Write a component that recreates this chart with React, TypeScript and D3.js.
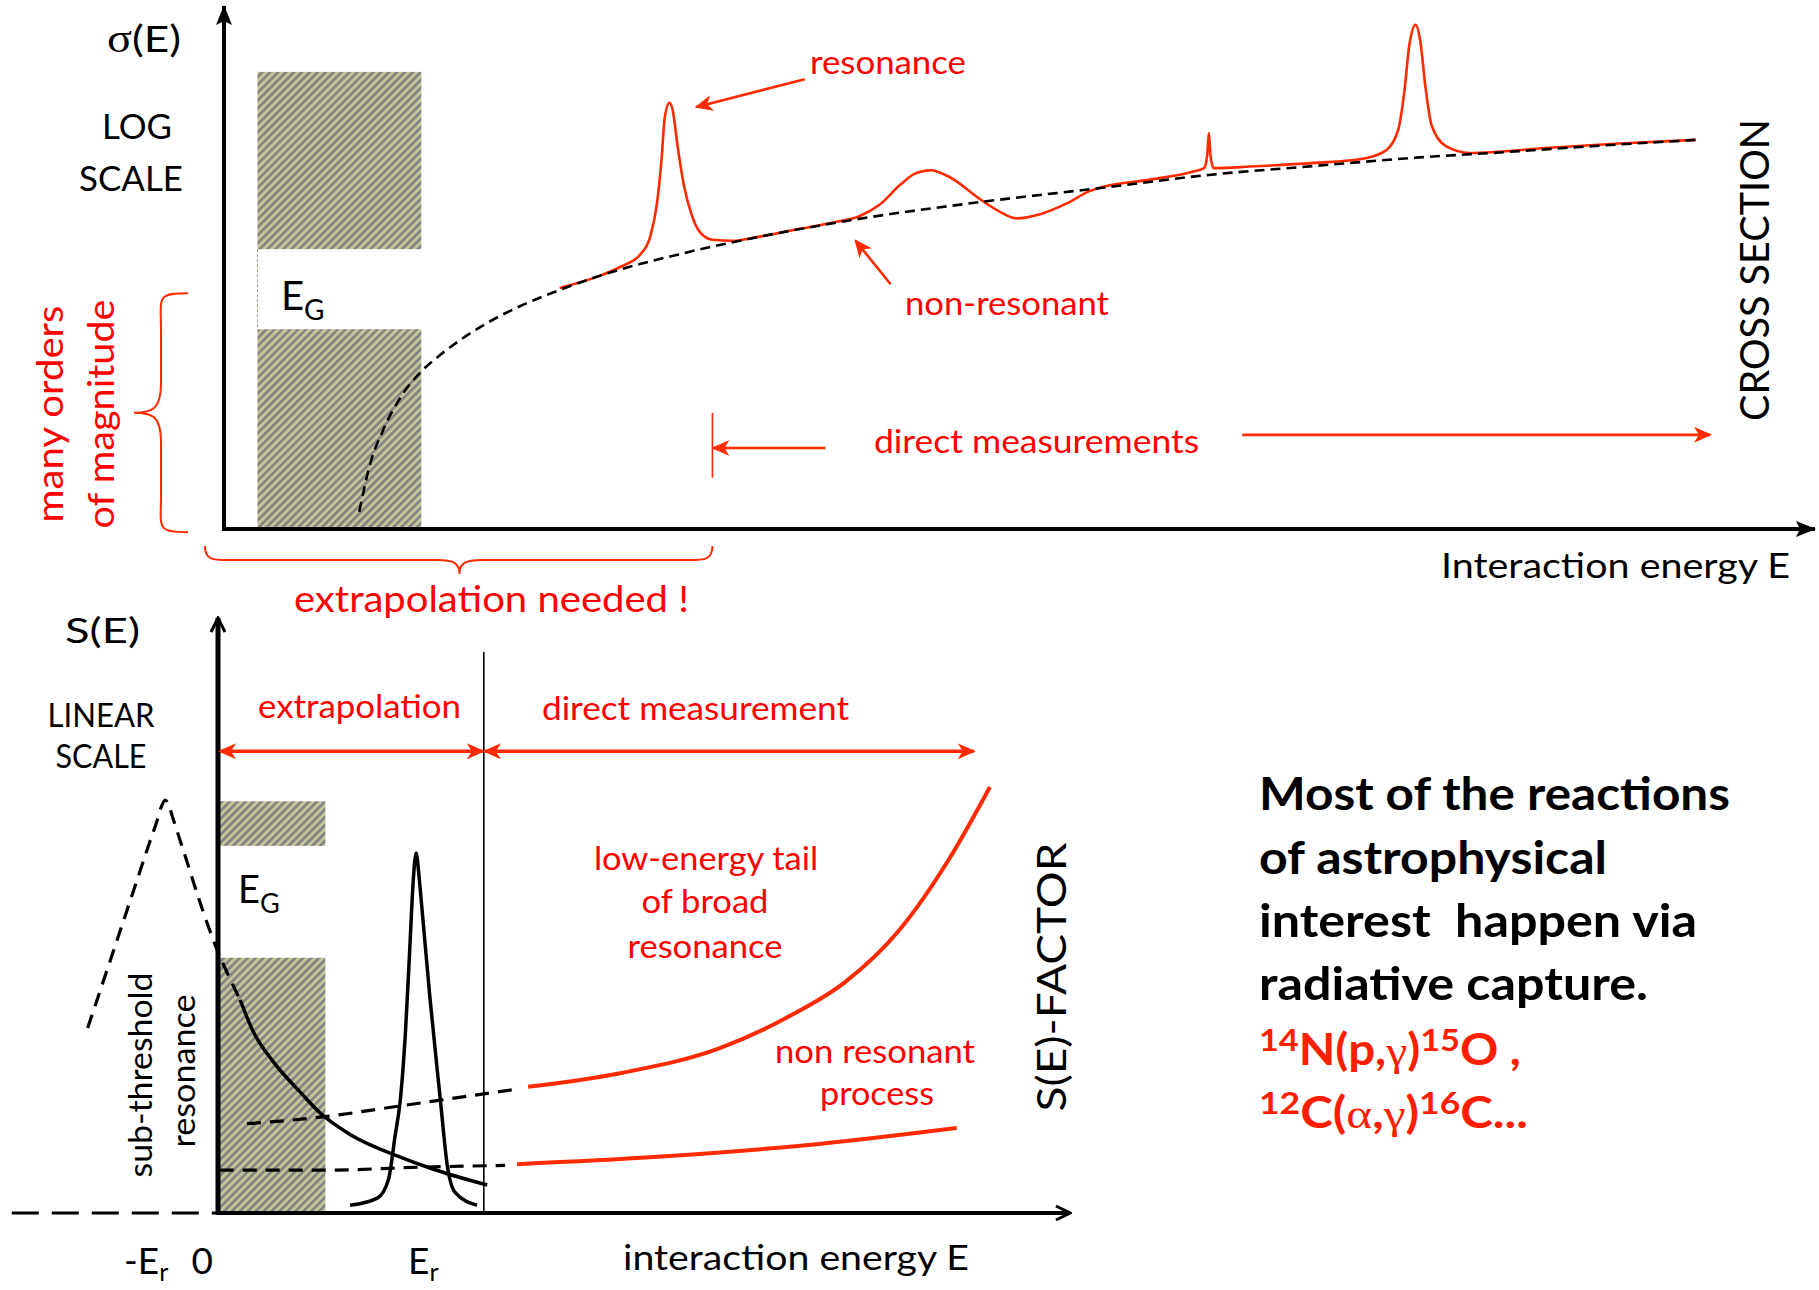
import React, { useEffect } from 'react';
import * as d3 from 'd3';

type Pt = [number, number];

// ---------- upper panel: cross section σ(E), log scale (arbitrary units 0–100) ----------
const nonResonantSigma: Pt[] = [
  [8.5, 3.3], [9.2, 12.6], [10.0, 18.9], [11.1, 25.2], [12.3, 29.8], [13.6, 33.3], [16.1, 38.6],
  [18.6, 42.6], [21.1, 45.7], [23.6, 48.4], [28.7, 52.6], [33.7, 55.9], [39.3, 59.0], [47.5, 62.5],
  [55.1, 65.2], [61.9, 67.7], [68.5, 69.4], [74.9, 71.0], [80.2, 72.0], [86.5, 73.3], [92.5, 74.4],
];
const measuredSigma: Pt[] = [
  [21.1, 46.1], [23.6, 48.4], [24.9, 50.1], [26.2, 52.6], [26.8, 56.0], [27.2, 62.0], [27.5, 70.6],
  [27.7, 78.6], [28.0, 81.5], [28.2, 80.1], [28.5, 73.4], [28.9, 65.8], [29.4, 60.0], [29.9, 56.8],
  [30.7, 55.3], [32.0, 55.1], [33.1, 55.6], [36.2, 57.4], [38.3, 58.6], [40.0, 59.9], [41.2, 62.0],
  [42.5, 65.8], [43.4, 67.9], [44.4, 68.6], [45.6, 67.3], [47.5, 63.1], [48.8, 60.6], [49.8, 59.4],
  [51.3, 60.2], [53.0, 62.3], [54.4, 64.6], [55.1, 65.3], [58.2, 66.8], [61.0, 68.4], [61.6, 69.0],
  [61.8, 71.5], [61.9, 75.7], [62.0, 71.5], [62.2, 69.0], [64.5, 69.3], [68.5, 70.0], [71.4, 70.7],
  [73.0, 72.3], [73.8, 76.3], [74.2, 83.9], [74.5, 92.5], [74.9, 96.4], [75.2, 93.1], [75.5, 84.9],
  [75.9, 77.2], [76.8, 73.2], [78.3, 71.9], [83.3, 72.9], [87.7, 73.7], [92.5, 74.4],
];
const gamowTopE: Pt = [2.1, 12.4];
const hatchTopL: Pt[] = [[53.5, 87.4], [0, 38.2]];
const directStartTop = 30.7;
const directArrowTopL: Pt = [15.5, 18.0];
const directArrowTopE: Pt = [37.8, 64.0];
const directArrowTopEnd = 93.4;
const resonanceArrow: Pt[] = [[36.5, 86.0], [29.7, 80.7]];
const nonResonantArrow: Pt[] = [[41.9, 46.8], [39.7, 55.1]];
const ordersBraceL: Pt = [-0.6, 45.1];

// ---------- lower panel: S-factor, linear scale (arbitrary units 0–100) ----------
const subThresholdDashed: Pt[] = [
  [-15.3, 31.1], [-12.7, 42.2], [-10.0, 53.8], [-8.0, 62.4], [-7.2, 65.7], [-6.7, 68.1], [-6.2, 69.4],
  [-5.75, 68.4], [-5.3, 66.4], [-3.9, 60.2], [-1.8, 50.9], [-0.1, 44.2], [1.2, 40.0], [2.6, 35.8],
];
const subThresholdSolid: Pt[] = [
  [2.6, 35.8], [4.1, 30.6], [6.5, 25.4], [9.6, 20.4], [12.0, 16.8], [15.5, 13.2],
  [21.4, 9.4], [25.2, 7.4], [31.6, 4.7],
];
const narrowResonance: Pt[] = [
  [15.5, 1.3], [18.7, 2.5], [20.0, 5.6], [20.8, 13.1], [21.4, 19.0], [22.0, 30.3], [22.5, 44.2],
  [22.9, 55.5], [23.25, 60.5], [23.6, 56.5], [23.9, 51.8], [24.9, 35.8], [26.1, 19.0], [26.9, 8.1],
  [27.8, 3.5], [30.4, 1.3],
];
const broadTailDashed: Pt[] = [[3.4, 15.0], [12.0, 16.1], [21.4, 18.0], [29.6, 19.7], [35.5, 20.9]];
const broadTailMeasured: Pt[] = [
  [36.4, 21.2], [47.2, 23.5], [58.9, 27.7], [67.1, 33.1], [73.6, 38.8], [80.0, 47.6],
  [85.9, 59.7], [90.6, 71.6],
];
const nonResDashed: Pt[] = [[0.2, 7.2], [12.6, 7.2], [23.7, 7.7], [33.7, 8.0]];
const nonResMeasured: Pt[] = [[35.1, 8.2], [51.1, 9.4], [69.0, 11.4], [86.7, 14.3]];
const gamowBotE: Pt = [0, 12.6];
const hatchBotS: Pt[] = [[61.7, 69.2], [0, 42.9]];
const thresholdE = 31.2;
const directEndBot = 88.7;
const rangeArrowS = 77.6;
const axisExtensionE = -24.2;
const resonanceEnergy = 23.25;
const subThresholdEnergy = -6.2;

const RED_LINE = '#ff2a00';
const RED_TEXT = '#ff0000';
const FONT = "Lato, 'Open Sans', sans-serif";

// scales
const xTop = d3.scaleLinear().domain([0, 100]).range([224, 1815]);
const yTop = d3.scaleLinear().domain([0, 100]).range([529, 6]);
const xBot = d3.scaleLinear().domain([0, 100]).range([218, 1070]);
const yBot = d3.scaleLinear().domain([0, 100]).range([1213, 618]);

const lineTop = d3.line<Pt>().x(d => xTop(d[0])).y(d => yTop(d[1])).curve(d3.curveMonotoneX);
const lineBot = d3.line<Pt>().x(d => xBot(d[0])).y(d => yBot(d[1])).curve(d3.curveMonotoneX);

// curly brace opening to the right, tip pointing left
function braceLeft(x: number, y0: number, y1: number, w: number): string {
  const r = w / 2;
  const ym = (y0 + y1) / 2;
  return `M${x},${y0} C${x - r * 1.2},${y0} ${x - r},${y0 + 4} ${x - r},${y0 + r * 1.4}`
    + ` L${x - r},${ym - r * 1.1} C${x - r},${ym - 4} ${x - r * 1.3},${ym} ${x - w},${ym}`
    + ` C${x - r * 1.3},${ym} ${x - r},${ym + 4} ${x - r},${ym + r * 1.1}`
    + ` L${x - r},${y1 - r * 1.4} C${x - r},${y1 - 4} ${x - r * 1.2},${y1} ${x},${y1}`;
}
// curly brace opening upward, tip pointing down
function braceDown(x0: number, x1: number, y: number, h: number, xm: number): string {
  const r = h / 2;
  return `M${x0},${y} C${x0},${y + r * 1.1} ${x0 + 10},${y + r} ${x0 + r * 2},${y + r}`
    + ` L${xm - r * 1.6},${y + r} C${xm - 6},${y + r} ${xm},${y + r * 1.2} ${xm},${y + h}`
    + ` C${xm},${y + r * 1.2} ${xm + 6},${y + r} ${xm + r * 1.6},${y + r}`
    + ` L${x1 - r * 2},${y + r} C${x1 - 10},${y + r} ${x1},${y + r * 1.1} ${x1},${y}`;
}

// label with a fixed rendered width
function Label(props: any) {
  const { w, children, ...rest } = props;
  return (
    <text textLength={w} lengthAdjust="spacingAndGlyphs" {...rest}>{children}</text>
  );
}

export default function App() {
  useEffect(() => {
    document.body.style.margin = '0';
  }, []);

  const hatchTopX0 = xTop(gamowTopE[0]);
  const hatchTopW = xTop(gamowTopE[1]) - hatchTopX0;
  const hatchBotX0 = xBot(gamowBotE[0]);
  const hatchBotW = xBot(gamowBotE[1]) - hatchBotX0;
  const serif = "'Liberation Serif', serif";

  return (
    <svg width={1819} height={1290} viewBox="0 0 1819 1290" style={{ display: 'block', background: '#fff' }}
      fontFamily={FONT}>
      <defs>
        <pattern id="hatch" patternUnits="userSpaceOnUse" width={5.6} height={5.6} patternTransform="rotate(45)">
          <rect x={0} y={0} width={5.6} height={5.6} fill="#c4c49c" />
          <rect x={0} y={0} width={2.6} height={5.6} fill="#828282" />
        </pattern>
        <marker id="headRed" viewBox="0 0 18 16" refX={16} refY={8} markerWidth={18} markerHeight={16}
          markerUnits="userSpaceOnUse" orient="auto-start-reverse">
          <path d="M0,0 L18,8 L0,16 L5,8 Z" fill={RED_LINE} />
        </marker>
        <marker id="headBlack" viewBox="0 0 20 16" refX={19} refY={8} markerWidth={20} markerHeight={16}
          markerUnits="userSpaceOnUse" orient="auto">
          <path d="M0,0 L20,8 L0,16 L4,8 Z" fill="#000" />
        </marker>
        <marker id="headOpen" viewBox="0 0 18 18" refX={16} refY={9} markerWidth={18} markerHeight={18}
          markerUnits="userSpaceOnUse" orient="auto">
          <path d="M2,2 L16,9 L2,16" fill="none" stroke="#000" strokeWidth={3} />
        </marker>
      </defs>

      {/* ================= upper panel ================= */}
      {hatchTopL.map((b, i) => (
        <rect key={i} x={hatchTopX0} y={yTop(b[1])} width={hatchTopW} height={yTop(b[0]) - yTop(b[1])}
          fill="url(#hatch)" />
      ))}
      <line x1={hatchTopX0} x2={hatchTopX0} y1={yTop(hatchTopL[0][0])} y2={yTop(hatchTopL[1][1])}
        stroke="#9a9a80" strokeWidth={1} strokeDasharray="3 2" />

      {/* axes */}
      <line x1={xTop(0)} x2={xTop(0)} y1={yTop(-0.4)} y2={yTop(100)} stroke="#000" strokeWidth={4}
        markerEnd="url(#headBlack)" />
      <line x1={xTop(-0.1)} x2={xTop(100)} y1={yTop(0)} y2={yTop(0)} stroke="#000" strokeWidth={4}
        markerEnd="url(#headBlack)" />

      {/* curves */}
      <path d={lineTop(measuredSigma) || ''} fill="none" stroke={RED_LINE} strokeWidth={2.6} />
      <path d={lineTop(nonResonantSigma) || ''} fill="none" stroke="#000" strokeWidth={2.6}
        strokeDasharray="10 6" />

      {/* annotations */}
      <line x1={xTop(resonanceArrow[0][0])} y1={yTop(resonanceArrow[0][1])}
        x2={xTop(resonanceArrow[1][0])} y2={yTop(resonanceArrow[1][1])}
        stroke={RED_LINE} strokeWidth={2.6} markerEnd="url(#headRed)" />
      <line x1={xTop(nonResonantArrow[0][0])} y1={yTop(nonResonantArrow[0][1])}
        x2={xTop(nonResonantArrow[1][0])} y2={yTop(nonResonantArrow[1][1])}
        stroke={RED_LINE} strokeWidth={2.6} markerEnd="url(#headRed)" />
      <line x1={xTop(directStartTop)} x2={xTop(directStartTop)} y1={yTop(9.8)} y2={yTop(22.2)}
        stroke={RED_LINE} strokeWidth={1.6} />
      <line x1={xTop(directArrowTopE[0])} x2={xTop(directStartTop) + 1} y1={yTop(directArrowTopL[0])}
        y2={yTop(directArrowTopL[0])} stroke={RED_LINE} strokeWidth={2.6} markerEnd="url(#headRed)" />
      <line x1={xTop(directArrowTopE[1])} x2={xTop(directArrowTopEnd)} y1={yTop(directArrowTopL[1])}
        y2={yTop(directArrowTopL[1])} stroke={RED_LINE} strokeWidth={2.6} markerEnd="url(#headRed)" />

      <path d={braceLeft(188, yTop(ordersBraceL[1]), yTop(ordersBraceL[0]), 54)} fill="none"
        stroke={RED_LINE} strokeWidth={2} />
      <path d={braceDown(xTop(-1.2), xTop(directStartTop), 546, 28, xTop(14.8))} fill="none"
        stroke={RED_LINE} strokeWidth={2} />

      {/* texts */}
      <Label x={107} y={52} fontSize={37} w={74}>
        <tspan fontFamily={serif} fontSize={39}>σ</tspan>(E)
      </Label>
      <Label x={137} y={139} fontSize={34} textAnchor="middle" w={70}>LOG</Label>
      <Label x={131} y={191} fontSize={34} textAnchor="middle" w={104}>SCALE</Label>
      <text x={281} y={310} fontSize={40}>E<tspan fontSize={28} dy={10}>G</tspan></text>
      <Label x={810} y={74} fontSize={32} fill={RED_TEXT} w={156}>resonance</Label>
      <Label x={905} y={315} fontSize={32} fill={RED_TEXT} w={204}>non-resonant</Label>
      <Label x={874} y={453} fontSize={32} fill={RED_TEXT} w={325}>direct measurements</Label>
      <Label transform="translate(1769,270) rotate(-90)" fontSize={41} textAnchor="middle" w={302}>CROSS SECTION</Label>
      <Label x={1441} y={578} fontSize={34} w={349}>Interaction energy E</Label>
      <Label transform="translate(63,414) rotate(-90)" fontSize={37} textAnchor="middle" fill={RED_TEXT} w={217}>many orders</Label>
      <Label transform="translate(114,414) rotate(-90)" fontSize={37} textAnchor="middle" fill={RED_TEXT} w={229}>of magnitude</Label>
      <Label x={294} y={612} fontSize={36} fill={RED_TEXT} w={395}>extrapolation needed !</Label>

      {/* ================= lower panel ================= */}
      {hatchBotS.map((b, i) => (
        <rect key={i} x={hatchBotX0} y={yBot(b[1])} width={hatchBotW} height={yBot(b[0]) - yBot(b[1])}
          fill="url(#hatch)" />
      ))}

      {/* axes */}
      <line x1={xBot(axisExtensionE)} x2={xBot(0)} y1={yBot(0)} y2={yBot(0)} stroke="#000" strokeWidth={3}
        strokeDasharray="27 13" />
      <line x1={xBot(0)} x2={xBot(0)} y1={yBot(-0.3)} y2={yBot(100)} stroke="#000" strokeWidth={5}
        markerEnd="url(#headOpen)" />
      <line x1={xBot(-0.2)} x2={xBot(100)} y1={yBot(0)} y2={yBot(0)} stroke="#000" strokeWidth={4}
        markerEnd="url(#headOpen)" />
      <line x1={xBot(thresholdE)} x2={xBot(thresholdE)} y1={yBot(0)} y2={yBot(94.3)} stroke="#000"
        strokeWidth={1.6} />

      {/* range arrows */}
      <line x1={xBot(0) + 2} x2={xBot(thresholdE) - 1} y1={yBot(rangeArrowS)} y2={yBot(rangeArrowS)}
        stroke={RED_LINE} strokeWidth={3.5} markerStart="url(#headRed)" markerEnd="url(#headRed)" />
      <line x1={xBot(thresholdE) + 1} x2={xBot(directEndBot)} y1={yBot(rangeArrowS)} y2={yBot(rangeArrowS)}
        stroke={RED_LINE} strokeWidth={3.5} markerStart="url(#headRed)" markerEnd="url(#headRed)" />

      {/* curves */}
      <path d={lineBot(subThresholdDashed) || ''} fill="none" stroke="#000" strokeWidth={3.2}
        strokeDasharray="14 9" />
      <path d={lineBot(subThresholdSolid) || ''} fill="none" stroke="#000" strokeWidth={3.5} />
      <path d={lineBot(narrowResonance) || ''} fill="none" stroke="#000" strokeWidth={3.5} />
      <path d={lineBot(broadTailDashed) || ''} fill="none" stroke="#000" strokeWidth={3.2}
        strokeDasharray="14 9" />
      <path d={lineBot(broadTailMeasured) || ''} fill="none" stroke={RED_LINE} strokeWidth={4} />
      <path d={lineBot(nonResDashed) || ''} fill="none" stroke="#000" strokeWidth={3.2}
        strokeDasharray="14 9" />
      <path d={lineBot(nonResMeasured) || ''} fill="none" stroke={RED_LINE} strokeWidth={4} />

      {/* texts */}
      <Label x={65} y={643} fontSize={34} w={75}>S(E)</Label>
      <Label x={101} y={727} fontSize={32} textAnchor="middle" w={107}>LINEAR</Label>
      <Label x={101} y={768} fontSize={32} textAnchor="middle" w={91}>SCALE</Label>
      <Label x={258} y={718} fontSize={32} fill={RED_TEXT} w={203}>extrapolation</Label>
      <Label x={542} y={720} fontSize={32} fill={RED_TEXT} w={307}>direct measurement</Label>
      <text x={238} y={903} fontSize={38}>E<tspan fontSize={27} dy={10}>G</tspan></text>
      <Label x={706} y={870} fontSize={32} textAnchor="middle" fill={RED_TEXT} w={224}>low-energy tail</Label>
      <Label x={705} y={913} fontSize={32} textAnchor="middle" fill={RED_TEXT} w={127}>of broad</Label>
      <Label x={705} y={958} fontSize={32} textAnchor="middle" fill={RED_TEXT} w={155}>resonance</Label>
      <Label x={875} y={1063} fontSize={32} textAnchor="middle" fill={RED_TEXT} w={200}>non resonant</Label>
      <Label x={877} y={1105} fontSize={32} textAnchor="middle" fill={RED_TEXT} w={114}>process</Label>
      <Label transform="translate(1066,977) rotate(-90)" fontSize={41} textAnchor="middle" w={269}>S(E)-FACTOR</Label>
      <Label transform="translate(152,1075) rotate(-90)" fontSize={32} textAnchor="middle" w={205}>sub-threshold</Label>
      <Label transform="translate(195,1071) rotate(-90)" fontSize={32} textAnchor="middle" w={153}>resonance</Label>
      <text x={xBot(subThresholdEnergy) - 19} y={1274} fontSize={37} textAnchor="middle">-E<tspan fontSize={25} dy={7}>r</tspan></text>
      <text x={xBot(0) - 5} y={1274} fontSize={37} textAnchor="end">0</text>
      <text x={xBot(resonanceEnergy) - 8} y={1274} fontSize={37}>E<tspan fontSize={25} dy={7}>r</tspan></text>
      <Label x={623} y={1270} fontSize={34} w={346}>interaction energy E</Label>

      {/* ================= side note ================= */}
      <g fontWeight="bold" fontSize={46}>
        <Label x={1259} y={810} w={471}>Most of the reactions</Label>
        <Label x={1259} y={874} w={348}>of astrophysical</Label>
        <Label x={1259} y={937} w={438} style={{ whiteSpace: 'pre' }}>interest  happen via</Label>
        <Label x={1259} y={1000} w={389}>radiative capture.</Label>
        <Label x={1259} y={1065} fill="#ff1e00" fontSize={43} w={262}>
          <tspan fontSize={31} dy={-14}>14</tspan><tspan dy={14}>N(p,</tspan>
          <tspan fontFamily={serif} fontWeight="normal">γ</tspan>)
          <tspan fontSize={31} dy={-14}>15</tspan><tspan dy={14}>O ,</tspan>
        </Label>
        <Label x={1259} y={1128} fill="#ff1e00" fontSize={43} w={269}>
          <tspan fontSize={31} dy={-14}>12</tspan><tspan dy={14}>C(</tspan>
          <tspan fontFamily={serif} fontWeight="normal">α</tspan>,
          <tspan fontFamily={serif} fontWeight="normal">γ</tspan>)
          <tspan fontSize={31} dy={-14}>16</tspan><tspan dy={14}>C...</tspan>
        </Label>
      </g>
    </svg>
  );
}
